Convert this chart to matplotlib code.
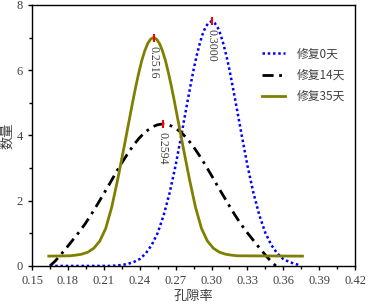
import matplotlib
matplotlib.use('Agg')
import matplotlib.pyplot as plt
from matplotlib.ticker import MultipleLocator

plt.rcParams['font.family'] = ['Liberation Serif', 'Noto Sans CJK SC']

# 修复0天 (blue dotted)
x0 = [0.165, 0.210, 0.215, 0.220, 0.225, 0.230, 0.235, 0.240, 0.245, 0.250, 0.255,
      0.260, 0.265, 0.270, 0.275, 0.280, 0.2825, 0.285, 0.2875, 0.290, 0.2925, 0.295,
      0.2975, 0.300, 0.3025, 0.305, 0.3075, 0.310, 0.3125, 0.315, 0.3175, 0.320,
      0.325, 0.330, 0.335, 0.340, 0.345, 0.350, 0.355, 0.360, 0.365, 0.370, 0.373]
y0 = [0.00, 0.00, 0.00, 0.01, 0.03, 0.06, 0.12, 0.21, 0.38, 0.64, 1.01,
      1.55, 2.24, 3.08, 4.05, 5.05, 5.54, 6.01, 6.43, 6.79, 7.10, 7.32,
      7.45, 7.50, 7.45, 7.32, 7.10, 6.79, 6.43, 6.01, 5.54, 5.05,
      4.05, 3.08, 2.24, 1.55, 1.01, 0.64, 0.38, 0.21, 0.12, 0.06, 0.03]

# 修复14天 (black dash-dot)
x14 = [0.1650, 0.1694, 0.1744, 0.1794, 0.1844, 0.1894, 0.1944, 0.1994, 0.2044,
       0.2094, 0.2144, 0.2194, 0.2244, 0.2294, 0.2344, 0.2394, 0.2444, 0.2494,
       0.2519, 0.2544, 0.2569, 0.2594, 0.2619, 0.2644, 0.2669,
       0.2694, 0.2744, 0.2794, 0.2844, 0.2894, 0.2944,
       0.2994, 0.3044, 0.3094, 0.3144, 0.3194, 0.3244, 0.3294, 0.3344, 0.3394,
       0.3444, 0.3494, 0.3538]
y14 = [0.00, 0.15, 0.36, 0.58, 0.81, 1.04, 1.29, 1.57, 1.87,
       2.18, 2.49, 2.81, 3.12, 3.41, 3.68, 3.91, 4.10, 4.23,
       4.28, 4.32, 4.34, 4.35, 4.34, 4.32, 4.28,
       4.23, 4.10, 3.91, 3.68, 3.41, 3.12,
       2.81, 2.49, 2.18, 1.87, 1.57, 1.29, 1.04, 0.81, 0.58,
       0.36, 0.15, 0.00]

# 修复35天 (olive solid)
x35 = [0.1640, 0.1816, 0.1866, 0.1916, 0.1966, 0.2016, 0.2066, 0.2116, 0.2166,
       0.2216, 0.2266, 0.2316, 0.2341, 0.2366, 0.2391, 0.2416, 0.2441, 0.2466, 0.2491,
       0.2516, 0.2541, 0.2566, 0.2591, 0.2616, 0.2641, 0.2666, 0.2691, 0.2716,
       0.2766, 0.2816, 0.2866, 0.2916, 0.2966, 0.3016, 0.3066,
       0.3116, 0.3166, 0.3216, 0.3760]
y35 = [0.30, 0.31, 0.33, 0.36, 0.42, 0.54, 0.76, 1.15, 1.80,
       2.65, 3.58, 4.54, 5.02, 5.48, 5.90, 6.28, 6.58, 6.81, 6.95,
       7.00, 6.95, 6.81, 6.58, 6.28, 5.90, 5.48, 5.02, 4.54,
       3.58, 2.65, 1.80, 1.15, 0.76, 0.54, 0.42,
       0.36, 0.33, 0.31, 0.30]

peak_x = [0.3000, 0.2594, 0.2516]
peak_y = [7.50, 4.35, 7.00]
peak_txt = ['0.3000', '0.2594', '0.2516']

xticks = [0.15, 0.18, 0.21, 0.24, 0.27, 0.30, 0.33, 0.36, 0.39, 0.42]
yticks = [0, 2, 4, 6, 8]

fig = plt.figure(figsize=(3.68, 3.06), dpi=100)
ax = fig.add_axes([0.087, 0.131, 0.878, 0.853])

ax.plot(x0, y0, color='#0000ff', lw=1.8, linestyle=(0, (1, 1.1)), label='修复0天')
ax.plot(x14, y14, color='black', lw=2.0, linestyle=(0, (4, 2, 1, 2)), label='修复14天')
ax.plot(x35, y35, color='#808000', lw=2.0, label='修复35天')

ax.plot(peak_x, peak_y, linestyle='', marker='|', color='red', markersize=6, mew=1.5)
for px, py, t in zip(peak_x, peak_y, peak_txt):
  ax.text(px, py - 0.25, t, rotation=270, ha='center', va='top', fontsize=8.5, color='#404040')

ax.set_xlim(0.15, 0.42)
ax.set_ylim(0, 8)
ax.set_xticks(xticks)
ax.set_xticklabels(['{:.2f}'.format(v) for v in xticks])
ax.set_yticks(yticks)
ax.xaxis.set_minor_locator(MultipleLocator(0.015))
ax.yaxis.set_minor_locator(MultipleLocator(1))
ax.tick_params(which='both', direction='out', length=3, width=1, labelsize=9, colors='black', labelcolor='#404040')
ax.tick_params(which='minor', length=2.5)
for sp in ax.spines.values():
  sp.set_linewidth(1.0)

ax.set_xlabel('孔隙率', family=['Noto Sans CJK SC'], fontsize=9.5, color='#404040', labelpad=2)
ax.set_ylabel('数量', family=['Noto Sans CJK SC'], fontsize=9.5, color='#404040', labelpad=2)

leg = ax.legend(loc='upper right', bbox_to_anchor=(0.985, 0.855), frameon=False,
                handlelength=2.0, labelspacing=0.7, handletextpad=1.0, borderaxespad=0,
                prop={'family': ['Noto Sans CJK SC'], 'size': 8.5})
for t in leg.get_texts():
  t.set_color('#404040')

fig.savefig('out.png', dpi=100)
